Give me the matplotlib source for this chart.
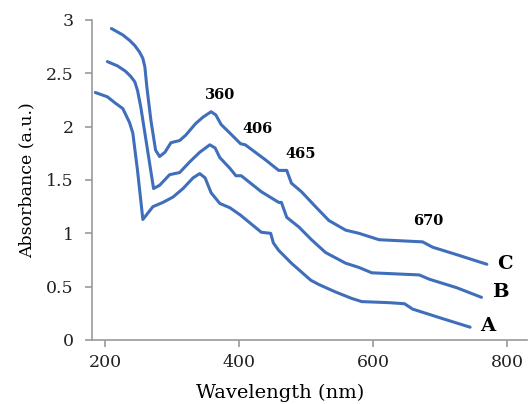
import numpy as np
import matplotlib.pyplot as plt

plt.rcParams['font.family'] = ['DejaVu Serif']

# Curve C (top)
wl_C = [209, 226, 236, 244, 251, 256, 259, 262, 268, 275, 281, 289, 298, 311, 320, 335, 346, 358, 365,
        373, 386, 402, 409, 439, 459, 471, 478, 493, 514, 534, 559, 579, 609, 674, 689, 725, 770]
abs_C = [2.92, 2.86, 2.81, 2.76, 2.70, 2.64, 2.56, 2.37, 2.06, 1.78, 1.72, 1.76, 1.85, 1.87, 1.92, 2.03, 2.09, 2.14, 2.11,
         2.02, 1.94, 1.84, 1.83, 1.69, 1.59, 1.59, 1.47, 1.39, 1.25, 1.12, 1.03, 1.00, 0.94, 0.92, 0.87, 0.80, 0.71]

# Curve B (middle)
wl_B = [203, 218, 230, 238, 244, 248, 253, 260, 272, 281, 296, 311, 326, 341, 356, 364, 371, 386, 395, 403,
        433, 459, 463, 471, 489, 508, 529, 559, 579, 598, 669, 684, 725, 762]
abs_B = [2.61, 2.57, 2.52, 2.47, 2.42, 2.34, 2.18, 1.90, 1.42, 1.45, 1.55, 1.57, 1.67, 1.76, 1.83, 1.80, 1.71, 1.61, 1.54, 1.54,
         1.39, 1.29, 1.29, 1.15, 1.06, 0.94, 0.82, 0.72, 0.68, 0.63, 0.61, 0.57, 0.49, 0.40]

# Curve A (bottom)
wl_A = [185, 203, 215, 226, 236, 241, 248, 256, 271, 286, 301, 316, 331, 341, 349, 358, 371, 386, 402,
        433, 447, 451, 459, 478, 507, 519, 544, 568, 583, 624, 647, 659, 699, 745]
abs_A = [2.32, 2.28, 2.22, 2.17, 2.04, 1.94, 1.59, 1.13, 1.25, 1.29, 1.34, 1.42, 1.52, 1.56, 1.52, 1.38, 1.28, 1.24, 1.17,
         1.01, 1.00, 0.91, 0.84, 0.72, 0.56, 0.52, 0.45, 0.39, 0.36, 0.35, 0.34, 0.29, 0.21, 0.12]

# peak annotations
peak_labels = ["360", "406", "465", "670"]
peak_x = [371, 427, 492, 682]
peak_y = [2.30, 1.98, 1.74, 1.12]

curve_names = ["C", "B", "A"]
name_x = [797, 790, 772]
name_y = [0.71, 0.45, 0.13]

fig = plt.figure(figsize=(5.3, 4.04), dpi=100)
ax = fig.add_axes([92/530, 64/404, 435/530, 320/404])

col = '#3f6fba'
for wl, ab in [(wl_C, abs_C), (wl_B, abs_B), (wl_A, abs_A)]:
    ax.plot(wl, ab, color=col, lw=2.2, solid_joinstyle='round', solid_capstyle='round')

for t, x, y in zip(peak_labels, peak_x, peak_y):
    ax.text(x, y, t, fontsize=10.5, fontweight='bold', ha='center', va='center')
for t, x, y in zip(curve_names, name_x, name_y):
    ax.text(x, y, t, fontsize=14, fontweight='bold', ha='center', va='center')

ax.set_xlim(180, 830)
ax.set_ylim(0, 3)
ax.set_xticks([200, 400, 600, 800])
ax.set_yticks([0, 0.5, 1, 1.5, 2, 2.5, 3])
ax.set_yticklabels(['0', '0.5', '1', '1.5', '2', '2.5', '3'])

for s in ['top', 'right']:
    ax.spines[s].set_visible(False)
for s in ['left', 'bottom']:
    ax.spines[s].set_color('#9a9a9a')
    ax.spines[s].set_linewidth(1.2)
ax.tick_params(colors='#9a9a9a', labelcolor='#222222', labelsize=12.5, length=5, width=1.2)
ax.tick_params(axis='x', pad=5)
ax.tick_params(axis='y', pad=8)

ax.set_xlabel("Wavelength (nm)", fontsize=14)
ax.xaxis.set_label_coords((280 - 92) / 435, (340 - 384) / 320)
ax.set_ylabel("Absorbance (a.u.)", fontsize=12.5, labelpad=8)

fig.savefig("out.png", dpi=100)
